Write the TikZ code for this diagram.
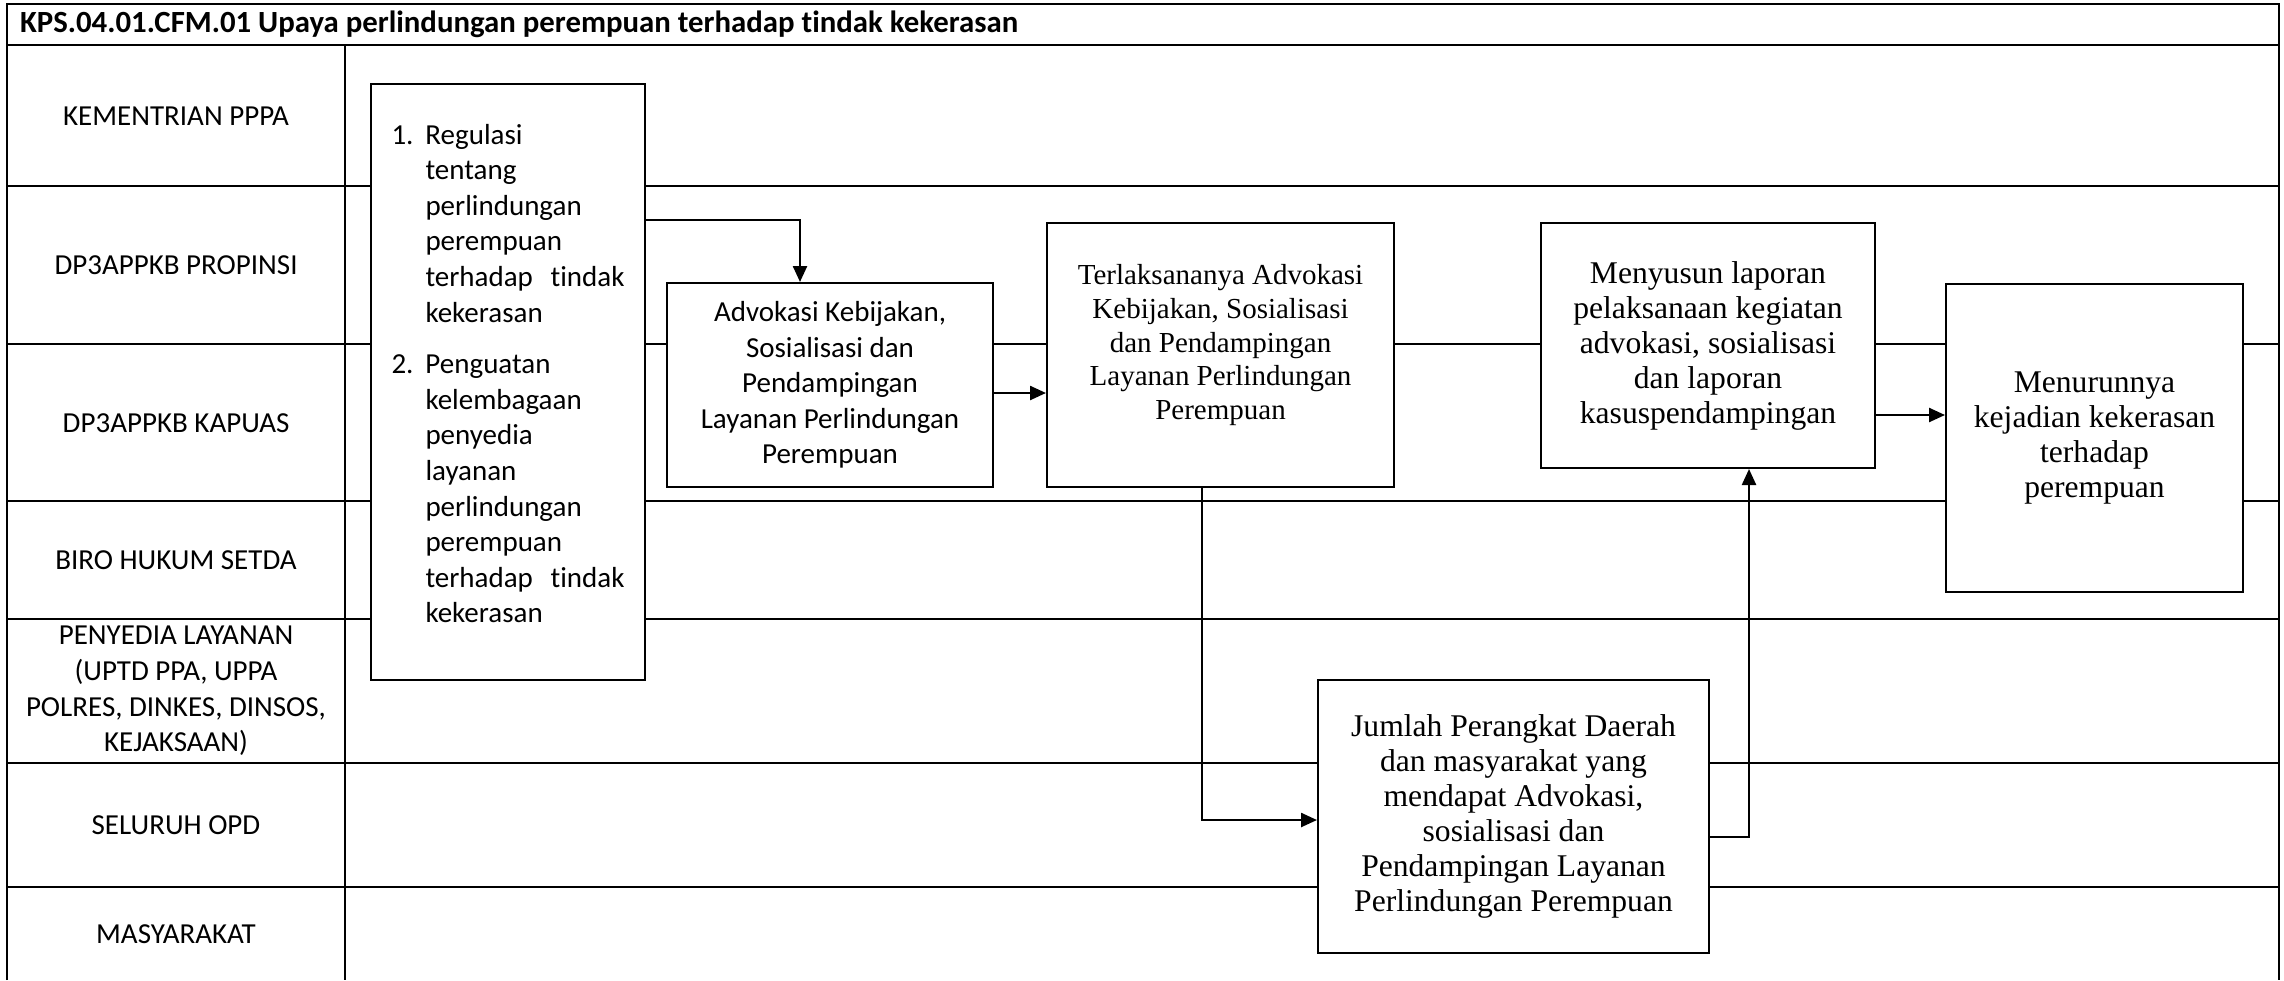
\documentclass[tikz,border=0pt]{standalone}
\usepackage{fontspec}
\setmainfont{Carlito}[Ligatures=NoCommon]
\newfontfamily\timesfont{Liberation Serif}
\usetikzlibrary{arrows.meta}
\newcommand{\calfont}{\fontsize{14.5}{17.8}\selectfont}
\newcommand{\tnrfont}{\timesfont\fontsize{14.5}{16.8}\selectfont}
\newcommand{\camfont}{\timesfont\fontsize{15.8}{17.5}\selectfont}

\begin{document}
\begin{tikzpicture}[x=0.5pt,y=-0.5pt,
  frame/.style={line width=1.4pt},
  box/.style={draw,line width=1pt,fill=white,align=center,inner sep=0pt},
  lane/.style={align=center,font=\calfont},
  ar/.style={-{Triangle[length=8pt,width=7pt]},line width=1.2pt}]
\useasboundingbox (0,0) rectangle (2284,980);
% swimlane frame
\draw[frame] (7,980) -- (7,4) -- (2279,4) -- (2279,980);
\draw[frame] (7,45) -- (2279,45);
\draw[frame] (345,45) -- (345,980);
\foreach \yy in {186,344,501,619,763,887}
  \draw[frame] (7,\yy) -- (2279,\yy);
\node[anchor=west,font=\bfseries\fontsize{15.4}{17}\selectfont] (judul) at (13,24)
  {KPS.04.01.CFM.01 Upaya perlindungan perempuan terhadap tindak kekerasan};
\foreach \yy/\txt [count=\i] in {116/KEMENTRIAN PPPA,265/DP3APPKB PROPINSI,
    423/DP3APPKB KAPUAS,560/BIRO HUKUM SETDA,
    691/{PENYEDIA LAYANAN\\(UPTD PPA, UPPA\\POLRES, DINKES, DINSOS,\\KEJAKSAAN)},
    825/SELURUH OPD,934/MASYARAKAT}
  \node[lane] (lane\i) at (176,\yy) {\txt};
% steps
\node[box,minimum width=137pt,minimum height=298pt,font=\calfont] (regulasi) at (508,382) {%
  \begin{minipage}[c][298pt][t]{116.5pt}\vspace*{20pt}%
  \makebox[17pt][l]{1.}Regulasi\\
  \hspace*{17pt}tentang\\
  \hspace*{17pt}perlindungan\\
  \hspace*{17pt}perempuan\\
  \hspace*{17pt}terhadap\hfill tindak\\
  \hspace*{17pt}kekerasan\\[8pt]
  \makebox[17pt][l]{2.}Penguatan\\
  \hspace*{17pt}kelembagaan\\
  \hspace*{17pt}penyedia\\
  \hspace*{17pt}layanan\\
  \hspace*{17pt}perlindungan\\
  \hspace*{17pt}perempuan\\
  \hspace*{17pt}terhadap\hfill tindak\\
  \hspace*{17pt}kekerasan
  \end{minipage}};
\node[box,minimum width=163pt,minimum height=102pt,font=\calfont] (advokasi) at (830,385)
  {Advokasi Kebijakan,\\Sosialisasi dan\\Pendampingan\\Layanan Perlindungan\\Perempuan};
\node[box,minimum width=173.5pt,minimum height=132pt,text depth=13pt,font=\tnrfont] (terlaksana) at (1220.5,355)
  {Terlaksananya Advokasi\\Kebijakan, Sosialisasi\\dan Pendampingan\\Layanan Perlindungan\\Perempuan};
\node[box,minimum width=167pt,minimum height=122.5pt,font=\camfont] (laporan) at (1708,345.5)
  {Menyusun laporan\\pelaksanaan kegiatan\\advokasi, sosialisasi\\dan laporan\\kasuspendampingan};
\node[box,minimum width=148.5pt,minimum height=154pt,font=\camfont] (menurun) at (2094.5,438)
  {Menurunnya\\kejadian kekerasan\\terhadap\\perempuan};
\node[box,minimum width=195.5pt,minimum height=136.5pt,font=\camfont] (jumlah) at (1513.5,816.5)
  {Jumlah Perangkat Daerah\\dan masyarakat yang\\mendapat Advokasi,\\sosialisasi dan\\Pendampingan Layanan\\Perlindungan Perempuan};
% connectors
\coordinate (k1) at (800,220);
\coordinate (k2) at (1000,393);
\coordinate (k3) at (1202,820);
\coordinate (k4) at (1749,837);
\coordinate (k5) at (1900,415);
\draw[ar] (regulasi.east |- k1) -- (k1) -- (k1 |- advokasi.north);
\draw[ar] (advokasi.east |- k2) -- (terlaksana.west |- k2);
\draw[ar] (terlaksana.south -| k3) |- (jumlah.west |- k3);
\draw[ar] (jumlah.east |- k4) -| (laporan.south -| k4);
\draw[ar] (laporan.east |- k5) -- (menurun.west |- k5);
\end{tikzpicture}
\end{document}
